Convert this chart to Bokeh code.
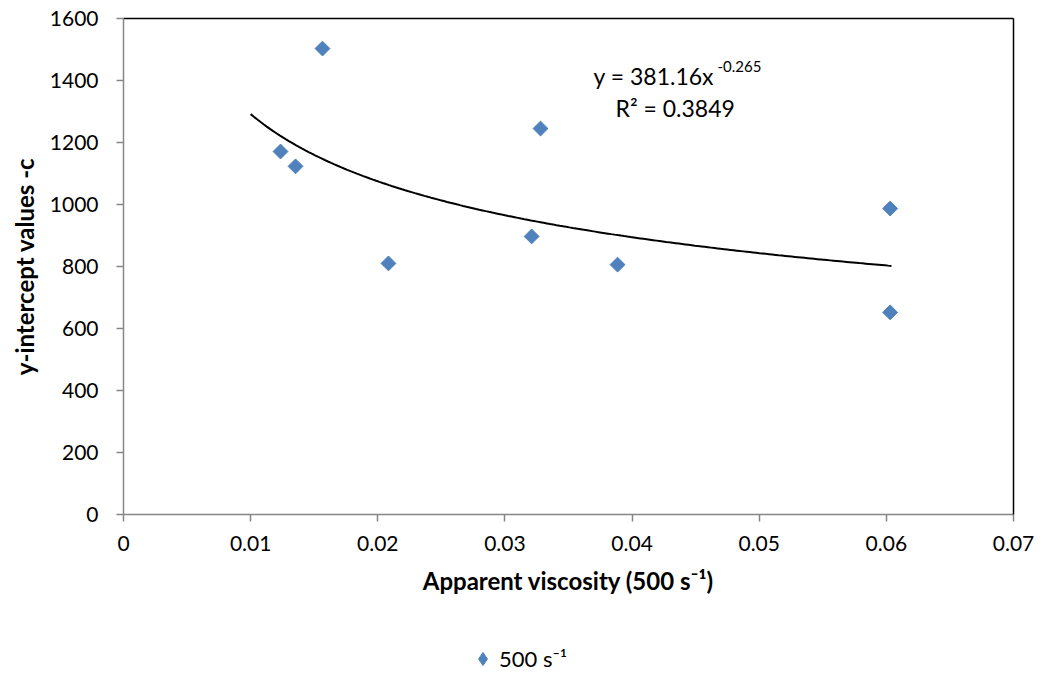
import numpy as np
from bokeh.plotting import figure
from bokeh.layouts import column
from bokeh.models import (Range1d, LinearAxis, FixedTicker, Legend, LegendItem,
                          Label, ColumnDataSource)
from bokeh.embed import file_html
from bokeh.resources import INLINE

# ---- data ----
viscosity = [0.01565, 0.01235, 0.01353, 0.02084, 0.03280, 0.03210, 0.03886, 0.06030, 0.06030]
intercept = [1503, 1171, 1123, 810, 1245, 897, 806, 987, 652]
series_name = "500 s\u207b\u00b9"

# power trendline y = a * x^b (from the chart's equation)
trend_a = 381.16
trend_b = -0.265
trend_x_start = 0.01
trend_x_end = 0.0604
r_squared = 0.3849

x_ticks = [0, 0.01, 0.02, 0.03, 0.04, 0.05, 0.06, 0.07]
y_ticks = [0, 200, 400, 600, 800, 1000, 1200, 1400, 1600]

FONT = "Lato"
BLUE = "#4F81BD"
AXIS_GRAY = "#868686"

W, H = 1040, 630
p = figure(width=W, height=H, output_backend="svg", toolbar_location=None,
           x_range=Range1d(0, 0.07), y_range=Range1d(0, 1600),
           min_border_left=123, min_border_right=W - 1013, min_border_top=18,
           min_border_bottom=H - 514, x_axis_type=None, y_axis_type=None)
p.outline_line_color = None
p.grid.visible = False
p.background_fill_color = "white"

xaxis = LinearAxis(ticker=FixedTicker(ticks=x_ticks),
                   axis_label="Apparent viscosity (500 s\u207b\u00b9)")
yaxis = LinearAxis(ticker=FixedTicker(ticks=y_ticks),
                   axis_label="y-intercept values -c")
for ax in (xaxis, yaxis):
    ax.axis_line_color = AXIS_GRAY
    ax.axis_line_width = 1.5
    ax.major_tick_line_color = AXIS_GRAY
    ax.major_tick_line_width = 1.5
    ax.major_tick_in = 0
    ax.major_tick_out = 7
    ax.minor_tick_line_color = None
    ax.major_label_text_font = FONT
    ax.major_label_text_font_size = "21px"
    ax.major_label_text_color = "black"
    ax.axis_label_text_font = FONT
    ax.axis_label_text_font_size = "24px"
    ax.axis_label_text_font_style = "bold"
    ax.axis_label_text_color = "black"
xaxis.major_label_standoff = 14
xaxis.axis_label_standoff = 12
yaxis.major_label_standoff = 18
yaxis.axis_label_standoff = 8
xaxis.major_label_overrides = {0: "0"}
p.add_layout(xaxis, "below")
p.add_layout(yaxis, "left")

# black top/right border
for loc in ("above", "right"):
    b = LinearAxis(ticker=FixedTicker(ticks=[]), axis_line_color="black",
                   axis_line_width=1.5, major_tick_line_color=None,
                   minor_tick_line_color=None, major_label_text_font_size="0px")
    p.add_layout(b, loc)

# trendline
tx = np.linspace(trend_x_start, trend_x_end, 200)
ty = trend_a * tx ** trend_b
p.line(tx, ty, line_color="black", line_width=2)

src = ColumnDataSource(dict(x=viscosity, y=intercept))
pts = p.scatter("x", "y", source=src, marker="square", angle=np.pi / 4, size=10.5,
                fill_color=BLUE, line_color=BLUE)

# equation labels
p.add_layout(Label(x=0.03697, y=1416, text="y = 381.16x", text_font=FONT,
                   text_color="black",
                   text_font_size="23px", text_baseline="middle", text_align="left"))
p.add_layout(Label(x=0.04672, y=1445, text="-0.265", text_font=FONT,
                   text_color="black",
                   text_font_size="15px", text_baseline="middle", text_align="left"))
p.add_layout(Label(x=0.0387, y=1310, text="R\u00b2 = " + str(r_squared), text_font=FONT,
                   text_color="black",
                   text_font_size="23px", text_baseline="middle", text_align="left"))

# legend strip below the chart (same series, hidden renderer, legend only)
H2 = 45
pl = figure(width=W, height=H2, output_backend="svg", toolbar_location=None,
            x_axis_type=None, y_axis_type=None, min_border=0,
            x_range=Range1d(0, 0.07), y_range=Range1d(0, 1600))
pl.outline_line_color = None
pl.grid.visible = False
lg_r = pl.scatter("x", "y", source=src, visible=False, marker="diamond",
                  size=10.5, fill_color=BLUE, line_color=BLUE)
legend = Legend(items=[LegendItem(label=series_name, renderers=[lg_r])],
                location=(343, 0), border_line_color=None,
                background_fill_alpha=0, padding=0, margin=0,
                inactive_fill_alpha=0,
                glyph_width=33, glyph_height=33, label_standoff=-2,
                label_height=24, label_text_color="black",
                label_text_font=FONT, label_text_font_size="22px")
pl.add_layout(legend, "center")

layout = column(p, pl, spacing=0)
open("out.html", "w").write(file_html(layout, INLINE))
